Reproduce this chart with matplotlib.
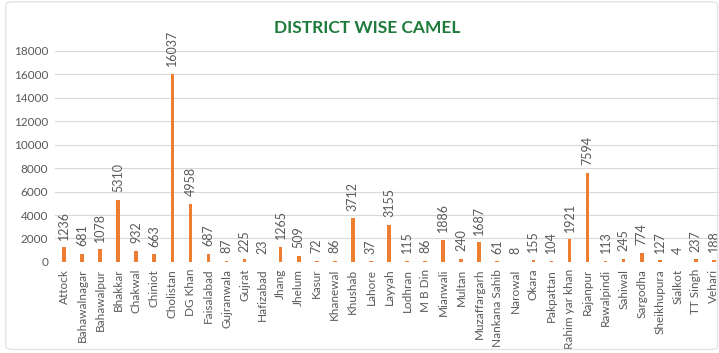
import matplotlib
matplotlib.use('Agg')
import matplotlib.pyplot as plt
from matplotlib.patches import FancyBboxPatch

plt.rcParams['font.family'] = ['Lato', 'DejaVu Sans']

districts = ['Attock', 'Bahawalnagar', 'Bahawalpur', 'Bhakkar', 'Chakwal', 'Chiniot',
             'Cholistan', 'DG Khan', 'Faisalabad', 'Gujranwala', 'Gujrat', 'Hafizabad',
             'Jhang', 'Jhelum', 'Kasur', 'Khanewal', 'Khushab', 'Lahore', 'Layyah',
             'Lodhran', 'M B Din', 'Mianwali', 'Multan', 'Muzaffargarh', 'Nankana Sahib',
             'Narowal', 'Okara', 'Pakpattan', 'Rahim yar khan', 'Rajanpur', 'Rawalpindi',
             'Sahiwal', 'Sargodha', 'Sheikhupura', 'Sialkot', 'TT Singh', 'Vehari']
camels = [1236, 681, 1078, 5310, 932, 663, 16037, 4958, 687, 87, 225, 23,
          1265, 509, 72, 86, 3712, 37, 3155, 115, 86, 1886, 240, 1687, 61,
          8, 155, 104, 1921, 7594, 113, 245, 774, 127, 4, 237, 188]
yticks = list(range(0, 18001, 2000))

fig = plt.figure(figsize=(7.19, 3.53), dpi=100)
fig.patches.append(FancyBboxPatch((0.008, 0.01), 0.99, 0.985, boxstyle='round,pad=0,rounding_size=0.01',
                                  transform=fig.transFigure, fill=False, ec='#e3e3e3', lw=1))
ax = fig.add_axes([0.0765, 0.258, 0.929, 0.598])

x = range(len(districts))
ax.bar(x, camels, width=0.2, color='#ED7D31', zorder=3)
for i, v in zip(x, camels):
    ax.text(i, v + 650, str(v), rotation=90, ha='center', va='bottom',
            fontsize=9, color='#595959', clip_on=False)

ax.set_xlim(-0.5, len(districts) - 0.5)
ax.set_ylim(0, 18000)
ax.set_yticks(yticks)
ax.set_yticklabels([str(t) for t in yticks], fontsize=8.5, color='#595959')
ax.set_xticks(list(x))
ax.set_xticklabels(districts, rotation=90, fontsize=8.5, color='#595959')
ax.tick_params(length=0, pad=5)
ax.grid(axis='y', color='#d9d9d9', lw=0.8, zorder=0)
for s in ax.spines.values():
    s.set_visible(False)

fig.text(0.51, 0.92, 'DISTRICT WISE CAMEL', ha='center', va='center',
         fontsize=12.5, fontweight='bold', color='#1E7B3C')

fig.savefig('out.png', dpi=100)
